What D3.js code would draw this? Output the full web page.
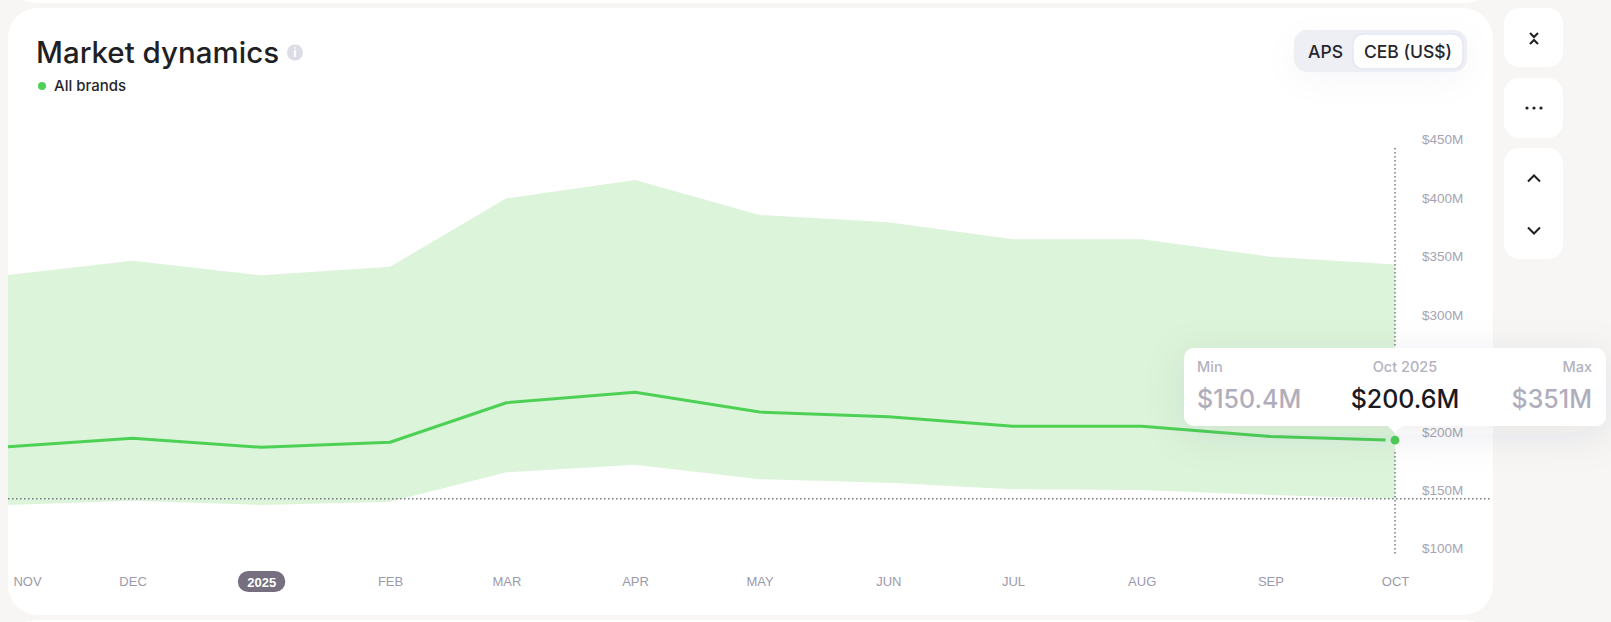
<!DOCTYPE html>
<html>
<head>
<meta charset="utf-8">
<script src="https://cdn.jsdelivr.net/npm/d3@7"></script>
<style>
  html, body { margin: 0; padding: 0; background: #f7f6f4; overflow: hidden; }
  svg { display: block; font-family: Inter, "Noto Sans", sans-serif; }
  .axis path, .axis line { display: none; }
  .xaxis text { font-size: 13px; fill: #9c9aaa; }
  .yaxis text { font-size: 13.5px; fill: #a6a4b2; }
</style>
</head>
<body>
<svg id="chart" width="1611" height="622"></svg>
<script>
const months = ["2024-11-01","2024-12-01","2025-01-01","2025-02-01","2025-03-01","2025-04-01",
                "2025-05-01","2025-06-01","2025-07-01","2025-08-01","2025-09-01","2025-10-01"];
const maxValues = [341.9, 354.1, 341.7, 349, 407.5, 423.2, 393.3, 387, 372.5, 372.5, 357.6, 351];
const midValues = [195, 202.2, 194.5, 198.8, 232.6, 241.5, 224.6, 220.7, 212.4, 212.4, 203.8, 200.6];
const minValues = [145.1, 148.8, 145.1, 147.9, 173.1, 179.6, 167.1, 164.2, 158.5, 157.9, 153.7, 150.4];
// $250M sits behind the tooltip in the reference
const yTicks = [100, 150, 200, 300, 350, 400, 450];
const monthNames = ["JAN","FEB","MAR","APR","MAY","JUN","JUL","AUG","SEP","OCT","NOV","DEC"];

const GREEN = "#4dd155", BAND = "#dcf4da", DOTS = "#77777e";

const dates = months.map(d3.utcParse("%Y-%m-%d"));
const rows = dates.map((d, i) => ({date: d, max: maxValues[i], mid: midValues[i], min: minValues[i]}));
const last = rows[rows.length - 1];

const x = d3.scaleUtc().domain(d3.extent(dates)).range([8, 1395]);
const y = d3.scaleLinear().domain([100, 450]).range([557.7, 148.7]);

const svg = d3.select("#chart");
const defs = svg.append("defs");
const shadow = (id, blur, op) => defs.append("filter").attr("id", id)
  .attr("x", "-30%").attr("y", "-80%").attr("width", "160%").attr("height", "280%")
  .append("feDropShadow").attr("dx", 0).attr("dy", 8).attr("stdDeviation", blur)
  .attr("flood-color", "#3a3a50").attr("flood-opacity", op);
shadow("tipShadow", 20, 0.09);
shadow("toggleShadow", 16, 0.03);

// page cards
const panels = [[8, -40, 1485, 43, 30], [8, 8, 1485, 607, 30], [8, 620, 1485, 40, 30],
                [1504, 8, 59, 59, 15], [1504, 78, 59, 60, 15], [1504, 148, 59, 111, 15]];
svg.append("g").selectAll("rect").data(panels).join("rect")
  .attr("x", d => d[0]).attr("y", d => d[1]).attr("width", d => d[2]).attr("height", d => d[3])
  .attr("rx", d => d[4]).attr("fill", "#fff");

// band and line
svg.append("path").attr("fill", BAND)
  .attr("d", d3.area().x(d => x(d.date)).y0(d => y(d.min)).y1(d => y(d.max))(rows));
svg.append("path").attr("fill", "none").attr("stroke", GREEN).attr("stroke-width", 3)
  .attr("stroke-linejoin", "round")
  .attr("d", d3.line().x(d => x(d.date)).y(d => y(d.mid))(rows));

// crosshair
svg.append("line").attr("x1", x(last.date)).attr("x2", x(last.date)).attr("y1", 148).attr("y2", 556)
  .attr("stroke", DOTS).attr("stroke-width", 1.5).attr("stroke-dasharray", "1.5 2.5");
svg.append("line").attr("x1", 8).attr("x2", 1491).attr("y1", y(last.min)).attr("y2", y(last.min))
  .attr("stroke", DOTS).attr("stroke-width", 1.5).attr("stroke-dasharray", "1.5 2.5");
// gap around the end dot: band colour on the left half, card white on the right
const halo = d3.arc().innerRadius(0).outerRadius(9.5);
const dot = svg.append("g").attr("transform", `translate(${x(last.date)},${y(last.mid)})`);
dot.append("path").attr("fill", BAND).attr("d", halo({startAngle: -Math.PI, endAngle: 0}));
dot.append("path").attr("fill", "#fff").attr("d", halo({startAngle: 0, endAngle: Math.PI}));
dot.append("circle").attr("r", 4.4).attr("fill", GREEN);

// axes
const yAxis = svg.append("g").attr("class", "axis yaxis").attr("transform", "translate(1422,0)")
  .call(d3.axisRight(y).tickValues(yTicks).tickSize(0).tickPadding(0).tickFormat(d => `$${d}M`));
yAxis.selectAll("text").attr("x", 0).attr("dy", "-4.8px");

const xAxis = svg.append("g").attr("class", "axis xaxis").attr("transform", "translate(0,570)")
  .call(d3.axisBottom(x).tickValues(dates).tickSize(0).tickPadding(0)
    .tickFormat(d => monthNames[d.getUTCMonth()]));
xAxis.selectAll("text").attr("y", 0).attr("dy", "16.2px");
xAxis.selectAll(".tick").filter((d, i) => i === 0).select("text").attr("x", 19);
const yearTick = xAxis.selectAll(".tick").filter(d => d.getUTCMonth() === 0);
yearTick.insert("rect", "text").attr("x", -24).attr("y", 1).attr("width", 47.5).attr("height", 21)
  .attr("rx", 10.5).attr("fill", "#756f80");
yearTick.select("text").text("2025").attr("dy", "16.5px").style("fill", "#fff").style("font-weight", 600);

// heading
svg.append("text").attr("x", 36).attr("y", 63).attr("font-size", 29.5).attr("font-weight", 500)
  .attr("fill", "#1f1f24").text("Market dynamics");
svg.append("circle").attr("cx", 295).attr("cy", 52.5).attr("r", 8).attr("fill", "#dcdce6");
svg.append("text").attr("x", 295).attr("y", 57).attr("text-anchor", "middle").attr("font-size", 12)
  .attr("font-weight", 700).attr("fill", "#fff").text("i");
svg.append("circle").attr("cx", 42).attr("cy", 86).attr("r", 4).attr("fill", GREEN);
svg.append("text").attr("x", 54).attr("y", 91).attr("font-size", 15).attr("font-weight", 500)
  .attr("fill", "#26262c").text("All brands");

// APS / CEB toggle
svg.append("rect").attr("x", 1294).attr("y", 30).attr("width", 173).attr("height", 42).attr("rx", 13)
  .attr("fill", "#eeeff5").attr("filter", "url(#toggleShadow)");
svg.append("rect").attr("x", 1353).attr("y", 34).attr("width", 110).attr("height", 35).attr("rx", 10)
  .attr("fill", "#fff").attr("stroke", "#e5e7f5").attr("stroke-width", 1.5);
svg.append("text").attr("x", 1325.5).attr("y", 58).attr("text-anchor", "middle").attr("font-size", 17.5)
  .attr("font-weight", 500).attr("fill", "#26262c").text("APS");
svg.append("text").attr("x", 1408).attr("y", 58).attr("text-anchor", "middle").attr("font-size", 17.5)
  .attr("font-weight", 500).attr("fill", "#26262c").text("CEB (US$)");

// side buttons
const icons = ["M1530 33l4 4 4-4", "M1530 44l4-4 4 4", "M1528 181.5l6-6 6 6", "M1528 227.5l6 6 6-6"];
svg.append("g").selectAll("path").data(icons).join("path").attr("d", d => d).attr("fill", "none")
  .attr("stroke", "#1f1f24").attr("stroke-width", 2);
svg.append("g").selectAll("circle").data([1527, 1534, 1541]).join("circle")
  .attr("cx", d => d).attr("cy", 108).attr("r", 1.6).attr("fill", "#1f1f24");

// tooltip
const tip = svg.append("g");
tip.append("path").attr("fill", "#fff").attr("filter", "url(#tipShadow)")
  .attr("d", "M1194 348H1596a10 10 0 0 1 10 10V416a10 10 0 0 1-10 10H1402L1395 433L1388 426H1194a10 10 0 0 1-10-10V358a10 10 0 0 1 10-10Z");
const tipText = [
  {x: 1197, y: 372, anchor: "start", size: 14.5, fill: "#b4b2c0", text: "Min"},
  {x: 1405, y: 372, anchor: "middle", size: 14.5, fill: "#b4b2c0", text: "Oct 2025"},
  {x: 1592, y: 372, anchor: "end", size: 14.5, fill: "#b4b2c0", text: "Max"},
  {x: 1197, y: 408, anchor: "start", size: 25, fill: "#b0aebc", text: `$${last.min}M`},
  {x: 1405, y: 408, anchor: "middle", size: 25, fill: "#1a1a1f", text: `$${last.mid}M`},
  {x: 1592, y: 408, anchor: "end", size: 25, fill: "#b0aebc", text: `$${last.max}M`}
];
tip.selectAll("text").data(tipText).join("text")
  .attr("x", d => d.x).attr("y", d => d.y).attr("text-anchor", d => d.anchor)
  .attr("font-size", d => d.size).attr("font-weight", 500).attr("fill", d => d.fill).text(d => d.text);
</script>
</body>
</html>
